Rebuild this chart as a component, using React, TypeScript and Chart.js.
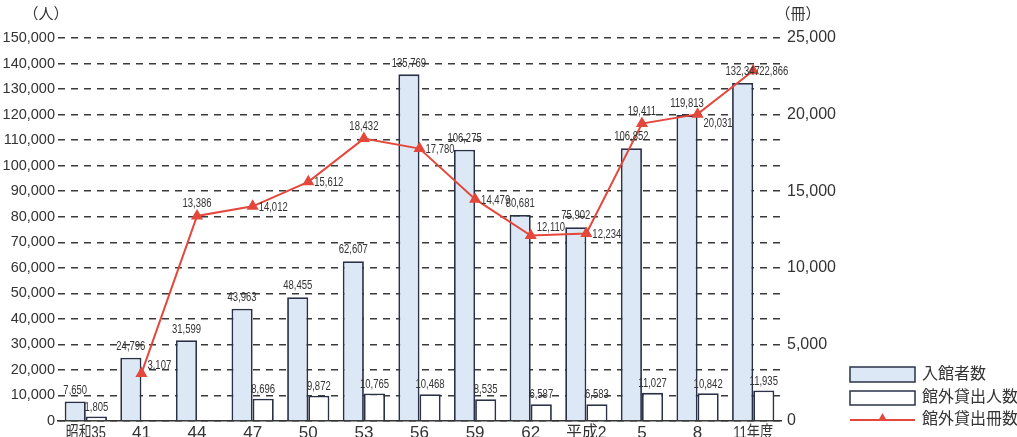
import React, { useEffect, useRef } from 'react';
import { Chart, registerables } from 'chart.js';

Chart.register(...registerables);

const categories = ['昭和35', '41', '44', '47', '50', '53', '56', '59', '62', '平成2', '5', '8', '11年度'];
const visitors = [7650, 24796, 31599, 43963, 48455, 62607, 135769, 106275, 80681, 75902, 106852, 119813, 132347];
const borrowers = [1805, null, null, 8696, 9872, 10765, 10468, 8535, 6587, 6583, 11027, 10842, 11935];
const booksLent = [null, 3107, 13386, 14012, 15612, 18432, 17780, 14479, 12110, 12234, 19411, 20031, 22866];
const leftMax = 150000;
const leftStep = 10000;
const rightMax = 25000;
const rightStep = 5000;
const seriesNames = ['入館者数', '館外貸出人数', '館外貸出冊数'];
const leftUnit = '（人）';
const rightUnit = '（冊）';
// placement of the line value labels
const lineLabelPlacement = ['', 'upRight', 'above', 'right', 'right', 'above', 'right', 'right', 'upRight', 'right', 'above', 'belowRight', 'right'];

const BLUE = '#dce8f5';
const DARK = '#2b3247';
const RED = '#e4473b';
const TEXT = '#333333';
const NUM_FONT = '"Liberation Sans", Arial, sans-serif';
const CJK_FONT = '"Liberation Sans", "Noto Sans CJK JP", sans-serif';

const fmt = (v: number) => v.toLocaleString('en-US');

function drawTriangle(ctx: CanvasRenderingContext2D, x: number, y: number, r: number) {
  ctx.beginPath();
  ctx.moveTo(x, y - r);
  ctx.lineTo(x + r * 0.9, y + r * 0.6);
  ctx.lineTo(x - r * 0.9, y + r * 0.6);
  ctx.closePath();
  ctx.fill();
}

const overlayPlugin = {
  id: 'overlay',
  afterDatasetsDraw(chart: any) {
    const ctx: CanvasRenderingContext2D = chart.ctx;
    ctx.save();
    ctx.fillStyle = TEXT;
    ctx.font = `12.5px ${NUM_FONT}`;
    // bar labels
    [0, 1].forEach((di) => {
      const meta = chart.getDatasetMeta(di);
      meta.data.forEach((el: any, i: number) => {
        const v = chart.data.datasets[di].data[i];
        if (v == null) return;
        const txt = fmt(v);
        ctx.textAlign = 'center';
        ctx.textBaseline = 'bottom';
        const w = ctx.measureText(txt).width * 0.76;
        ctx.fillText(txt, el.x, el.y - (di === 0 ? 5 : 3), w);
      });
    });
    // line labels
    const lm = chart.getDatasetMeta(2);
    lm.data.forEach((el: any, i: number) => {
      const v = chart.data.datasets[2].data[i];
      if (v == null) return;
      const txt = fmt(v);
      const w = ctx.measureText(txt).width * 0.76;
      const p = lineLabelPlacement[i];
      ctx.textBaseline = 'middle';
      if (p === 'above') {
        ctx.textAlign = 'center';
        ctx.fillText(txt, el.x, el.y - 12, w);
      } else {
        ctx.textAlign = 'left';
        const dy = p === 'upRight' ? -8 : p === 'belowRight' ? 9 : 1;
        ctx.fillText(txt, el.x + 6, el.y + dy, w);
      }
    });
    ctx.restore();
  },
  afterDraw(chart: any) {
    const ctx: CanvasRenderingContext2D = chart.ctx;
    const xScale = chart.scales.x;
    ctx.save();
    // x labels
    ctx.fillStyle = TEXT;
    ctx.font = `17px ${CJK_FONT}`;
    ctx.textAlign = 'center';
    ctx.textBaseline = 'top';
    categories.forEach((c, i) => {
      const x = xScale.getPixelForValue(i);
      ctx.fillText(c, x, 425, 40);
    });
    // units
    ctx.font = `15px ${CJK_FONT}`;
    ctx.textBaseline = 'middle';
    ctx.fillText(leftUnit, 46, 15);
    ctx.fillText(rightUnit, 798, 15);
    // legend
    const lx = 850;
    const lw = 65;
    ctx.lineWidth = 1.5;
    ctx.strokeStyle = DARK;
    ctx.fillStyle = BLUE;
    ctx.fillRect(lx, 367, lw, 15);
    ctx.strokeRect(lx, 367, lw, 15);
    ctx.fillStyle = '#ffffff';
    ctx.fillRect(lx, 391, lw, 14);
    ctx.strokeRect(lx, 391, lw, 14);
    ctx.strokeStyle = RED;
    ctx.lineWidth = 2;
    ctx.beginPath();
    ctx.moveTo(lx, 420);
    ctx.lineTo(lx + lw, 420);
    ctx.stroke();
    ctx.fillStyle = RED;
    drawTriangle(ctx, lx + lw / 2, 418, 5);
    ctx.fillStyle = TEXT;
    ctx.font = `16px ${CJK_FONT}`;
    ctx.textAlign = 'left';
    ctx.textBaseline = 'middle';
    ctx.fillText(seriesNames[0], 922, 375);
    ctx.fillText(seriesNames[1], 922, 398);
    ctx.fillText(seriesNames[2], 922, 420);
    ctx.restore();
  },
};

export default function App() {
  const ref = useRef<HTMLCanvasElement>(null);
  useEffect(() => {
    if (!ref.current) return;
    const chart = new Chart(ref.current, {
      type: 'bar',
      data: {
        labels: categories,
        datasets: [
          {
            type: 'bar',
            label: seriesNames[0],
            data: visitors,
            backgroundColor: BLUE,
            borderColor: DARK,
            borderWidth: 1.8,
            categoryPercentage: 0.76,
            barPercentage: 1,
            yAxisID: 'y',
            order: 2,
          },
          {
            type: 'bar',
            label: seriesNames[1],
            data: borrowers,
            backgroundColor: '#ffffff',
            borderColor: DARK,
            borderWidth: 1.8,
            categoryPercentage: 0.76,
            barPercentage: 1,
            yAxisID: 'y',
            order: 2,
          },
          {
            type: 'line',
            label: seriesNames[2],
            data: booksLent,
            borderColor: RED,
            backgroundColor: RED,
            borderWidth: 2,
            pointStyle: 'triangle',
            pointRadius: 5,
            pointBackgroundColor: RED,
            pointBorderColor: RED,
            yAxisID: 'y1',
            order: 0,
          },
        ] as any,
      },
      options: {
        responsive: false,
        animation: false,
        layout: { padding: { top: 38, left: 0, right: 0, bottom: 0 } },
        plugins: { legend: { display: false }, tooltip: { enabled: false } },
        scales: {
          x: {
            offset: true,
            grid: { display: false },
            border: { display: true, color: '#333', width: 1.5 },
            ticks: { display: false },
            afterFit: (s: any) => { s.height = 16; },
          },
          y: {
            position: 'left',
            min: 0,
            max: leftMax,
            ticks: {
              stepSize: leftStep,
              color: TEXT,
              padding: 3,
              font: { size: 14.5, family: NUM_FONT },
              callback: (v: any) => fmt(Number(v)),
            },
            grid: { color: '#3a3a3a', lineWidth: 1.5, drawTicks: false },
            border: { display: false, dash: [7, 6] },
            afterFit: (s: any) => { s.width = 58; },
          },
          y1: {
            position: 'right',
            min: 0,
            max: rightMax,
            ticks: {
              stepSize: rightStep,
              color: TEXT,
              padding: 6,
              font: { size: 16, family: NUM_FONT },
              callback: (v: any) => fmt(Number(v)),
            },
            grid: { display: false, drawTicks: false },
            border: { display: false },
            afterFit: (s: any) => { s.width = 236; },
          },
        },
      } as any,
      plugins: [overlayPlugin],
    });
    return () => chart.destroy();
  }, []);
  return (
    <div style={{ position: 'absolute', left: 0, top: 0, width: 1017, height: 437 }}>
      <canvas ref={ref} width={1017} height={437} />
    </div>
  );
}
